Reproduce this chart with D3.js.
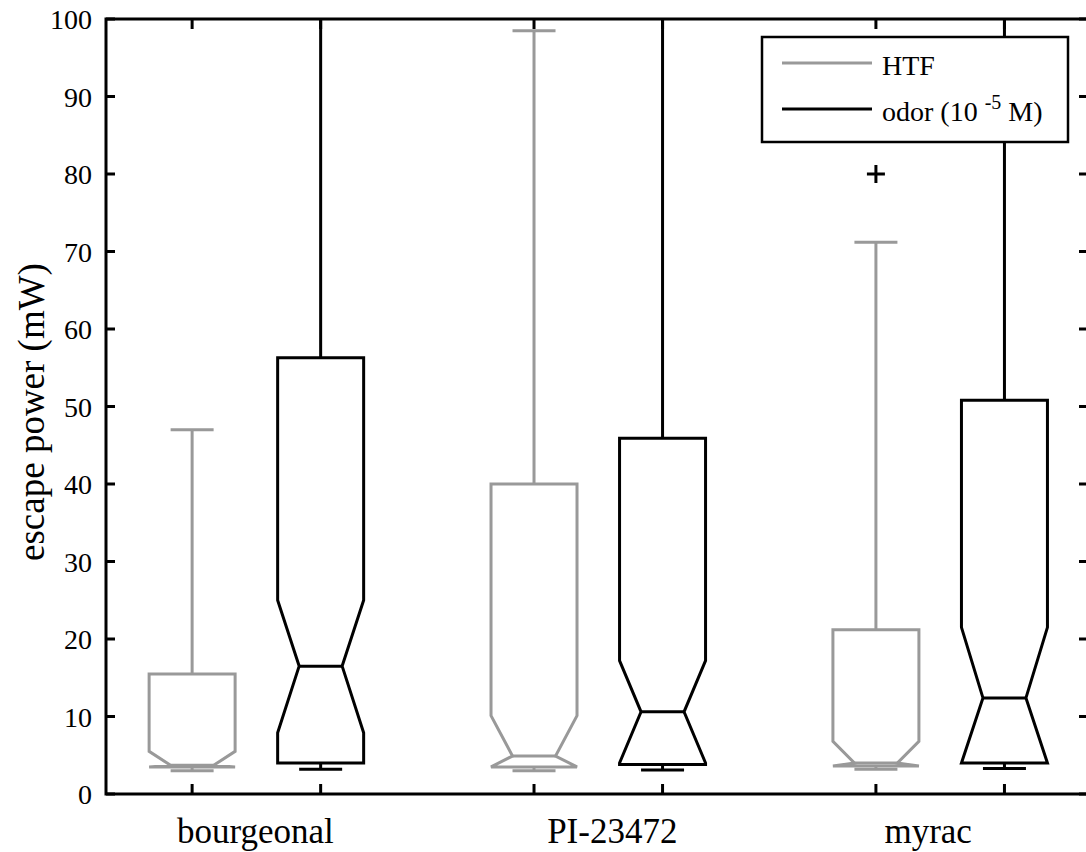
<!DOCTYPE html>
<html>
<head>
<meta charset="utf-8">
<script src="https://cdn.jsdelivr.net/npm/d3@7"></script>
<style>
  body { margin: 0; background: #fff; }
</style>
</head>
<body>
<div class="canva"></div>
<script>
// values (mW)
const categories = ["bourgeonal", "PI-23472", "myrac"];
const seriesNames = ["HTF", "odor"];
const yTicks = [0, 10, 20, 30, 40, 50, 60, 70, 80, 90, 100];

const htfLow      = [3.0, 3.0, 3.2];
const htfQ1       = [3.5, 3.5, 3.6];
const htfNotchLo  = [1.9, -0.3, 1.2];
const htfMedian   = [3.7, 4.9, 4.0];
const htfNotchHi  = [5.5, 10.1, 6.8];
const htfQ3       = [15.5, 40.0, 21.2];
const htfHigh     = [47.0, 98.5, 71.2];
const htfOutliers = [[], [], [80.0]];

const odorLow      = [3.2, 3.1, 3.3];
const odorQ1       = [4.0, 3.8, 4.0];
const odorNotchLo  = [7.9, 4.0, 3.3];
const odorMedian   = [16.5, 10.6, 12.4];
const odorNotchHi  = [25.0, 17.2, 21.5];
const odorQ3       = [56.3, 45.9, 50.8];
const odorHigh     = [120, 120, 120];   // runs off the top of the axes
const odorOutliers = [[], [], []];

const colors = {HTF: "#999999", odor: "#000000"};
const serif = "'Liberation Serif', 'DejaVu Serif', serif";

const width = 1086, height = 852;
const margin = {top: 19, right: -2, bottom: 58, left: 106};
const plotW = width - margin.left - margin.right;
const plotH = height - margin.top - margin.bottom;

const svg = d3.select(".canva").append("svg")
    .attr("width", width)
    .attr("height", height)
    .attr("font-family", serif)
    .style("font-family", serif);

const x = d3.scaleLinear().domain([0.33, 7.97]).range([0, plotW]);
const y = d3.scaleLinear().domain([0, 100]).range([plotH, 0]);

// box position: group g, series j
const groupGap = 0.66;
const pos = (g, j) => 1 + g * (2 + groupGap) + j;

const boxes = [];
categories.forEach((c, g) => {
    boxes.push({cat: c, series: "HTF", x: pos(g, 0), lo: htfLow[g], q1: htfQ1[g], nlo: htfNotchLo[g],
        med: htfMedian[g], nhi: htfNotchHi[g], q3: htfQ3[g], hi: htfHigh[g], out: htfOutliers[g]});
    boxes.push({cat: c, series: "odor", x: pos(g, 1), lo: odorLow[g], q1: odorQ1[g], nlo: odorNotchLo[g],
        med: odorMedian[g], nhi: odorNotchHi[g], q3: odorQ3[g], hi: odorHigh[g], out: odorOutliers[g]});
});

const g = svg.append("g").attr("transform", `translate(${margin.left},${margin.top})`);

svg.append("defs").append("clipPath").attr("id", "plotclip")
    .append("rect").attr("x", 0).attr("y", 0).attr("width", plotW).attr("height", plotH);

const plot = g.append("g").attr("clip-path", "url(#plotclip)");

const halfW = 43;       // box half width px
const notchW = 21.5;    // notch / cap half width px

const line = d3.line();

function boxOutline(d) {
    const cx = x(d.x);
    const nlo = Math.max(d.nlo, d.q1);
    const nhi = Math.min(d.nhi, d.q3);
    return line([
        [cx - halfW, y(d.q1)], [cx - halfW, y(nlo)], [cx - notchW, y(d.med)],
        [cx - halfW, y(nhi)], [cx - halfW, y(d.q3)], [cx + halfW, y(d.q3)],
        [cx + halfW, y(nhi)], [cx + notchW, y(d.med)], [cx + halfW, y(nlo)],
        [cx + halfW, y(d.q1)]
    ]) + "Z";
}

// gray first, black on top
const order = boxes.slice().sort((a, b) => (a.series === "HTF" ? 0 : 1) - (b.series === "HTF" ? 0 : 1));

const bx = plot.selectAll("g.box")
    .data(order)
    .enter()
    .append("g")
    .attr("class", "box")
    .attr("stroke", d => colors[d.series])
    .attr("stroke-width", 3)
    .attr("fill", "none");

// whiskers
bx.append("path").attr("d", d => line([[x(d.x), y(d.q3)], [x(d.x), y(d.hi)]]));
bx.append("path").attr("d", d => line([[x(d.x), y(d.q1)], [x(d.x), y(d.lo)]]));
bx.append("path").attr("d", d => line([[x(d.x) - notchW, y(d.hi)], [x(d.x) + notchW, y(d.hi)]]));
bx.append("path").attr("d", d => line([[x(d.x) - notchW, y(d.lo)], [x(d.x) + notchW, y(d.lo)]]));
// box and median
bx.append("path").attr("d", boxOutline).attr("stroke-linejoin", "miter");
bx.append("path").attr("d", d => line([[x(d.x) - notchW, y(d.med)], [x(d.x) + notchW, y(d.med)]]));

// outliers as "+"
boxes.forEach(d => {
    d.out.forEach(v => {
        plot.append("path")
            .attr("d", line([[x(d.x) - 9, y(v)], [x(d.x) + 9, y(v)]]) +
                       line([[x(d.x), y(v) - 9], [x(d.x), y(v) + 9]]))
            .attr("stroke", "#000")
            .attr("stroke-width", 3);
    });
});

// axes frame with inward ticks
const axes = g.append("g").attr("stroke", "#000").attr("stroke-width", 3).attr("fill", "none");
axes.append("rect").attr("x", 0).attr("y", 0).attr("width", plotW).attr("height", plotH);
yTicks.forEach(t => {
    axes.append("path").attr("d", line([[0, y(t)], [9, y(t)]]));
    axes.append("path").attr("d", line([[plotW, y(t)], [plotW - 9, y(t)]]));
});
boxes.forEach(d => {
    axes.append("path").attr("d", line([[x(d.x), plotH], [x(d.x), plotH - 10]]));
    axes.append("path").attr("d", line([[x(d.x), 0], [x(d.x), 10]]));
});

g.selectAll("text.ytick")
    .data(yTicks)
    .enter()
    .append("text")
    .attr("class", "ytick")
    .attr("x", -14)
    .attr("y", d => y(d) + 10)
    .attr("text-anchor", "end")
    .attr("font-family", serif)
    .attr("font-size", 28)
    .text(d => d);

// category labels (nudged as in the figure)
const labelNudge = [-1, 14, -12];
g.selectAll("text.cat")
    .data(categories)
    .enter()
    .append("text")
    .attr("class", "cat")
    .attr("x", (d, i) => (x(pos(i, 0)) + x(pos(i, 1))) / 2 + labelNudge[i])
    .attr("y", 843 - margin.top)
    .attr("text-anchor", "middle")
    .attr("font-family", serif)
    .attr("font-size", 35)
    .text(d => d);

svg.append("text")
    .attr("transform", "translate(44,412) rotate(-90)")
    .attr("text-anchor", "middle")
    .attr("font-family", serif)
    .attr("font-size", 37)
    .text("escape power (mW)");

// legend
const leg = svg.append("g").attr("transform", "translate(762,37)");
leg.append("rect")
    .attr("width", 306).attr("height", 105)
    .attr("fill", "#fff").attr("stroke", "#000").attr("stroke-width", 2.5);

const legRows = leg.selectAll("g.row")
    .data(seriesNames)
    .enter()
    .append("g")
    .attr("class", "row")
    .attr("transform", (d, i) => `translate(0,${26 + i * 46})`);

legRows.append("path")
    .attr("d", line([[20, 0], [110, 0]]))
    .attr("stroke", d => colors[d])
    .attr("stroke-width", 3);

const legText = legRows.append("text")
    .attr("x", 120)
    .attr("y", 12)
    .attr("font-family", serif)
    .attr("font-size", 28);

legText.filter(d => d === "HTF").text("HTF");
const odorText = legText.filter(d => d === "odor");
odorText.append("tspan").text("odor (10 ");
odorText.append("tspan").attr("dy", -12).attr("font-size", 20).text("-5");
odorText.append("tspan").attr("dy", 12).text(" M)");
</script>
</body>
</html>
